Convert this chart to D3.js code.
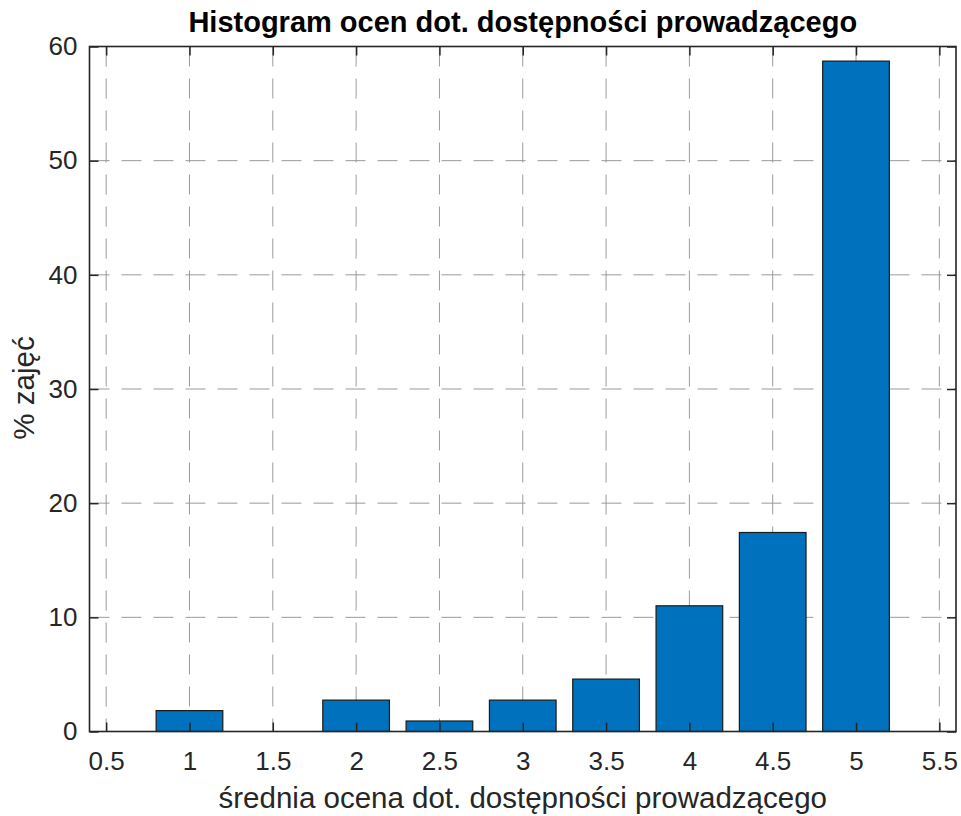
<!DOCTYPE html>
<html>
<head>
<meta charset="utf-8">
<script src="https://cdn.jsdelivr.net/npm/d3@7"></script>
<style>
  html, body { margin: 0; padding: 0; background: #fff; }
  svg { display: block; font-family: "Liberation Sans", Arial, Helvetica, sans-serif; }
</style>
</head>
<body>
<svg id="chart" width="961" height="816"></svg>
<script>
const categories = [1, 1.5, 2, 2.5, 3, 3.5, 4, 4.5, 5];
const percentValues = [1.83, 0, 2.75, 0.92, 2.75, 4.59, 11.01, 17.43, 58.72];
const xTickValues = [0.5, 1, 1.5, 2, 2.5, 3, 3.5, 4, 4.5, 5, 5.5];
const yTickValues = [0, 10, 20, 30, 40, 50, 60];
const titleText = "Histogram ocen dot. dostępności prowadzącego";
const xLabelText = "średnia ocena dot. dostępności prowadzącego";
const yLabelText = "% zajęć";

const svg = d3.select("#chart");
const pL = 89.5, pR = 956, pT = 46.5, pB = 731.5;
const textColor = "#262626";

const x = d3.scaleLinear().domain([0.4, 5.6]).range([pL, pR]);
const y = d3.scaleLinear().domain([0, 60]).range([pB, pT]);
const barW = x(0.4) - x(0);

// grid
const grid = svg.append("g");
grid.selectAll("line.vx").data(xTickValues).join("line")
  .attr("x1", d => x(d)).attr("x2", d => x(d))
  .attr("y1", pT).attr("y2", pB)
  .attr("stroke", "#9a9a9a").attr("stroke-width", 1).attr("stroke-dasharray", "20,12");
grid.selectAll("line.hy").data(yTickValues).join("line")
  .attr("y1", d => y(d)).attr("y2", d => y(d))
  .attr("x1", pL).attr("x2", pR)
  .attr("stroke", "#9a9a9a").attr("stroke-width", 1).attr("stroke-dasharray", "20,12");

// bars
svg.append("g").selectAll("rect")
  .data(categories.map((c, i) => ({c, v: percentValues[i]})).filter(d => d.v > 0))
  .join("rect")
  .attr("x", d => x(d.c) - barW / 2)
  .attr("width", barW)
  .attr("y", d => y(d.v))
  .attr("height", d => y(0) - y(d.v))
  .attr("fill", "#0072BD")
  .attr("stroke", "#1a1a1a")
  .attr("stroke-width", 1.2);

// axes
const tickLen = 9;
const xAxisB = d3.axisBottom(x).tickValues(xTickValues).tickFormat(d3.format("")).tickSizeInner(-tickLen).tickSizeOuter(0).tickPadding(20);
const xAxisT = d3.axisTop(x).tickValues(xTickValues).tickFormat("").tickSizeInner(-tickLen).tickSizeOuter(0);
const yAxisL = d3.axisLeft(y).tickValues(yTickValues).tickFormat(d3.format("")).tickSizeInner(-tickLen).tickSizeOuter(0).tickPadding(12);
const yAxisR = d3.axisRight(y).tickValues(yTickValues).tickFormat("").tickSizeInner(-tickLen).tickSizeOuter(0);

function styleAxis(g) {
  g.select(".domain").remove();
  g.selectAll(".tick line").attr("stroke", textColor).attr("stroke-width", 1.5);
  g.selectAll(".tick text").attr("fill", textColor).attr("font-size", 26).attr("font-family", "Liberation Sans, Arial, sans-serif");
}
svg.append("g").attr("transform", `translate(0,${pB})`).call(xAxisB).call(styleAxis);
svg.append("g").attr("transform", `translate(0,${pT})`).call(xAxisT).call(styleAxis);
svg.append("g").attr("transform", `translate(${pL},0)`).call(yAxisL).call(styleAxis);
svg.append("g").attr("transform", `translate(${pR},0)`).call(yAxisR).call(styleAxis);

// box
svg.append("rect").attr("x", pL).attr("y", pT).attr("width", pR - pL).attr("height", pB - pT)
  .attr("fill", "none").attr("stroke", textColor).attr("stroke-width", 1.6);

// title & labels
svg.append("text").attr("x", (pL + pR) / 2).attr("y", 32).attr("text-anchor", "middle")
  .attr("font-size", 29).attr("font-weight", "bold").attr("fill", "#000").text(titleText);
svg.append("text").attr("x", (pL + pR) / 2).attr("y", 808).attr("text-anchor", "middle")
  .attr("font-size", 29.5).attr("fill", textColor).text(xLabelText);
svg.append("text").attr("transform", `translate(34,${(pT + pB) / 2 - 1}) rotate(-90)`).attr("text-anchor", "middle")
  .attr("font-size", 29.5).attr("fill", textColor).text(yLabelText);
</script>
</body>
</html>
